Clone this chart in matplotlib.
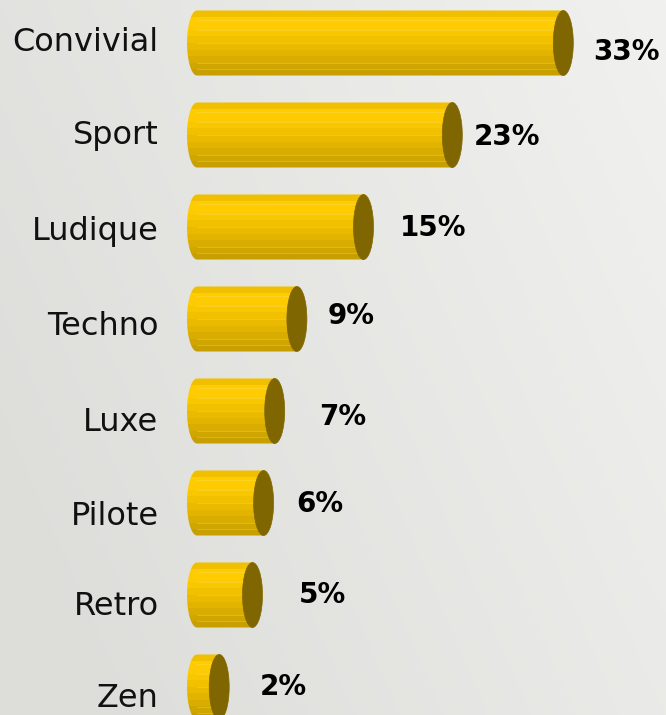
import numpy as np
import matplotlib
matplotlib.use("Agg")
import matplotlib.pyplot as plt
from matplotlib.path import Path
from matplotlib.patches import PathPatch, Ellipse
from matplotlib.colors import LinearSegmentedColormap

categories = ["Convivial", "Sport", "Ludique", "Techno", "Luxe", "Pilote", "Retro", "Zen"]
values = [33, 23, 15, 9, 7, 6, 5, 2]
value_labels = ["33%", "23%", "15%", "9%", "7%", "6%", "5%", "2%"]
# label offsets from bar end (points)
label_dx = [14, 8, 19, 15, 25, 16, 26, 22]
label_dy = [-6.4, -1.4, -0.9, 2.1, -4.4, -0.9, 0.1, 0.1]
cat_dy = [0.6, -0.6, -3.2, -5.5, -8, -10, -8.2, -8.2]

W, H = 666, 715
fig = plt.figure(figsize=(W / 100, H / 100), dpi=100)

# background gradient
bg = fig.add_axes([0, 0, 1, 1])
bg.set_axis_off()
yy, xx = np.mgrid[0:1:200j, 0:1:200j]
t = np.clip(0.75 * xx + 0.35 * (1 - yy) - 0.1, 0, 1)
c0 = np.array([0xdd, 0xde, 0xda]) / 255
c1 = np.array([0xf1, 0xf1, 0xef]) / 255
img = c0[None, None, :] * (1 - t[..., None]) + c1[None, None, :] * t[..., None]
bg.imshow(img[::-1], extent=[0, 1, 0, 1], aspect="auto", origin="lower")
bg.set_xlim(0, 1)
bg.set_ylim(0, 1)

ax = fig.add_axes([0, 0, 1, 1])
ax.set_axis_off()
ax.patch.set_alpha(0)
px = 11.1          # pixels per percent
x0 = 197           # pixel of zero
spacing = 92
first = 43
ax.set_xlim(-x0 / px, (W - x0) / px)
ax.set_ylim(len(categories) - 1 + (H - (first + (len(categories) - 1) * spacing)) / spacing,
            -first / spacing)

bh = 0.707                # bar height in category units
ew = 20 / px              # ellipse width in data units

band_colors = ["#f0c000", "#fecc00", "#fdcb00", "#f8c700", "#f1c100", "#eaba00",
               "#e2b400", "#d8ac00", "#cfa500", "#c89f00"]
cmap = LinearSegmentedColormap.from_list("cyl", band_colors, N=10)
grad = np.linspace(0, 1, 10)[:, None]

for i, (v, cat) in enumerate(zip(values, categories)):
    top, bot = i - bh / 2, i + bh / 2
    theta = np.linspace(np.pi / 2, 3 * np.pi / 2, 30)
    lx = 0 + (ew / 2) * np.cos(theta)
    ly = i - (bh / 2) * np.sin(theta)
    verts = list(zip(lx, ly)) + [(v, bot), (v, top), (lx[0], ly[0])]
    codes = [Path.MOVETO] + [Path.LINETO] * (len(verts) - 2) + [Path.CLOSEPOLY]
    clip = PathPatch(Path(verts, codes), facecolor="none", edgecolor="none")
    ax.add_patch(clip)
    im = ax.imshow(grad, cmap=cmap, extent=[-ew / 2, v, bot, top], aspect="auto",
                   interpolation="nearest", origin="upper", zorder=2)
    im.set_clip_path(clip)
    for f in [0.15, 0.3, 0.5, 0.8, 0.9]:
        ax.plot([0, v], [top + f * bh] * 2, color="#ffe070", lw=0.5, alpha=0.45, zorder=2.5)
    ax.add_patch(Ellipse((v, i), ew, bh, facecolor="#806600", edgecolor="#806600",
                         lw=0.5, zorder=3))
    ax.annotate(cat, xy=(-ew / 2, i), xytext=(-20.5, cat_dy[i]),
                textcoords="offset points", ha="right", va="center", fontsize=23,
                family="DejaVu Sans", color="#111111")
    ax.annotate(value_labels[i], xy=(v + ew / 2, i), xytext=(label_dx[i], label_dy[i]),
                textcoords="offset points", ha="left", va="center",
                fontsize=20, fontweight="bold", family="DejaVu Sans", color="black")

fig.savefig("out.png", dpi=100)
